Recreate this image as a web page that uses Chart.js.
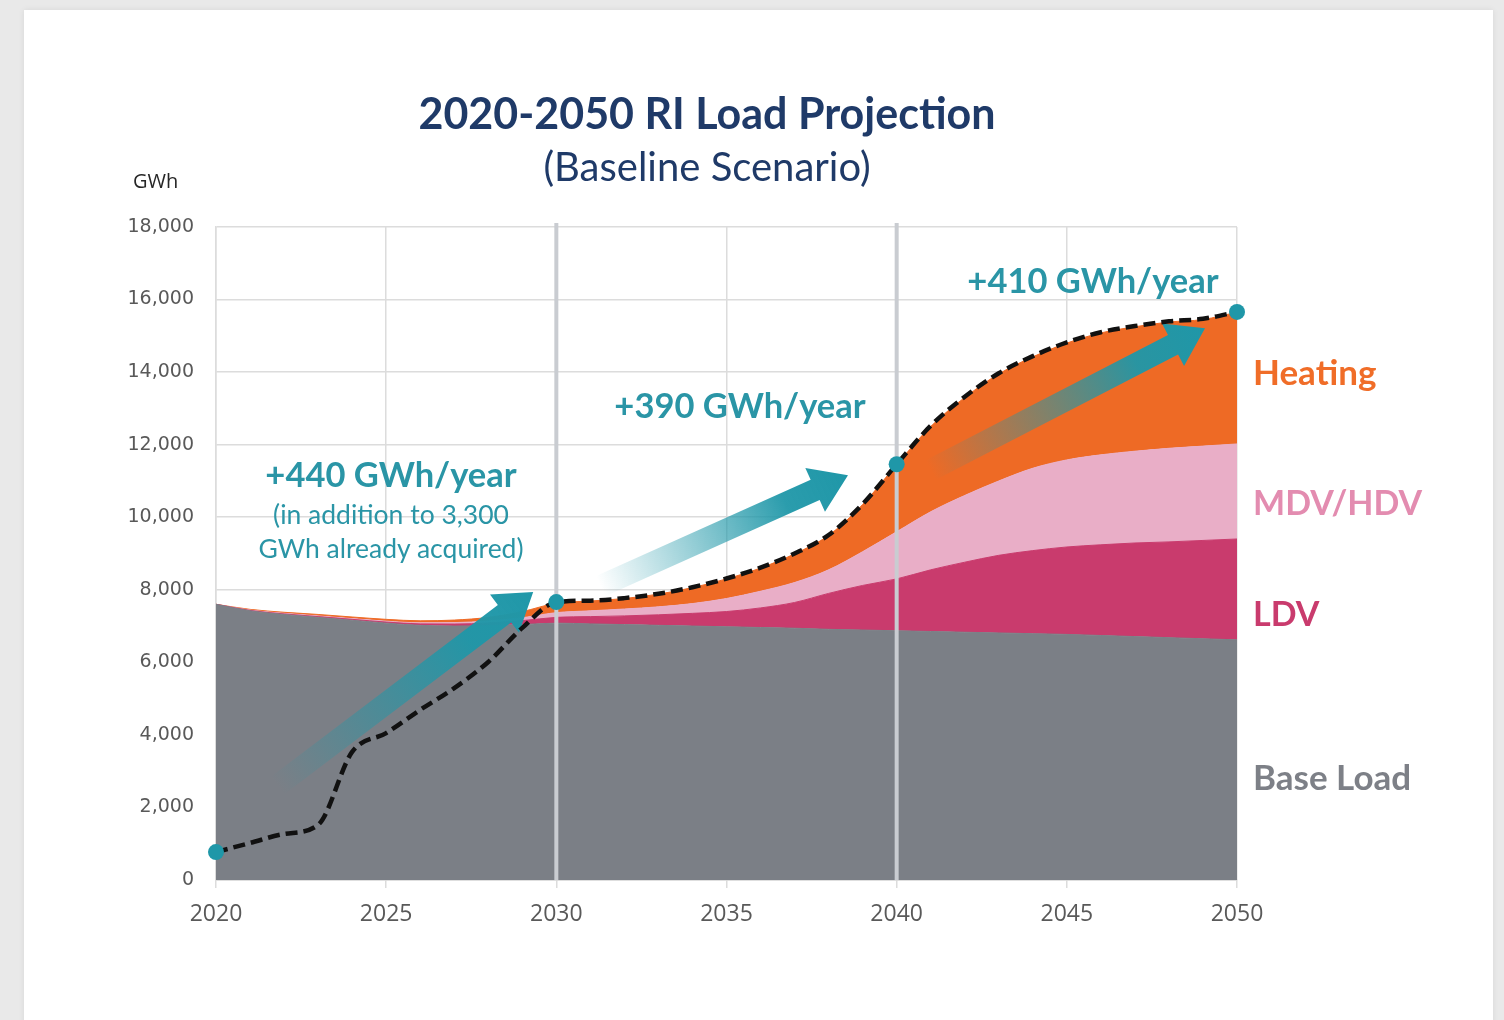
<!DOCTYPE html>
<html>
<head>
<meta charset="utf-8">
<script src="https://cdn.jsdelivr.net/npm/chart.js@4.4.1/dist/chart.umd.min.js"></script>
<style>
    html, body { margin: 0; padding: 0; }
    body { width: 1504px; height: 1020px; background: #e9e9e9; position: relative; overflow: hidden; font-family: Lato, "Open Sans", sans-serif; }
    .card { position: absolute; left: 24px; top: 10px; width: 1469px; height: 1100px; background: #fff; box-shadow: 0 0 6px rgba(0,0,0,0.08); }
    .wrap { position: absolute; left: 0; top: 0; width: 1504px; height: 1020px; }
    .txt { position: absolute; white-space: nowrap; transform: translate(-50%, -50%); line-height: 1; }
    .lbl { position: absolute; white-space: nowrap; transform: translateY(-50%); line-height: 1; font-weight: bold; font-size: 35px; }
    .teal { color: #2a95a6; }
</style>
</head>
<body>
<div class="card"></div>
<div class="wrap"><canvas id="loadChart"></canvas></div>

<div class="txt" style="left:707px; top:112px; font-size:43px; font-weight:bold; color:#1f3a68;">2020-2050 RI Load Projection</div>
<div class="txt" style="left:707px; top:166px; font-size:40px; color:#1f3a68;">(Baseline Scenario)</div>
<div class="lbl" style="left:133px; top:181px; font-size:20px; font-weight:normal; color:#262626; font-family:'Open Sans';">GWh</div>

<div class="txt teal" style="left:391px; top:474px; font-size:34.5px; font-weight:bold;">+440 GWh/year</div>
<div class="txt teal" style="left:391px; top:514px; font-size:26.5px;">(in addition to 3,300</div>
<div class="txt teal" style="left:391px; top:548px; font-size:26.5px;">GWh already acquired)</div>
<div class="txt teal" style="left:740px; top:405px; font-size:34.5px; font-weight:bold;">+390 GWh/year</div>
<div class="txt teal" style="left:1093px; top:280px; font-size:34.5px; font-weight:bold;">+410 GWh/year</div>

<div class="lbl" style="left:1253px; top:371px; color:#f06d28;">Heating</div>
<div class="lbl" style="left:1253px; top:502px; color:#e38cb0; font-size:34px;">MDV/HDV</div>
<div class="lbl" style="left:1253px; top:613px; color:#c93b6d; font-size:34px;">LDV</div>
<div class="lbl" style="left:1253px; top:776px; color:#7d8087;">Base Load</div>

<script>
// Years on the x axis
const years = [2020, 2021, 2022, 2023, 2024, 2025, 2026, 2027, 2028, 2029, 2030,
               2031, 2032, 2033, 2034, 2035, 2036, 2037, 2038, 2039, 2040,
               2041, 2042, 2043, 2044, 2045, 2046, 2047, 2048, 2049, 2050];

// Stacked load components (GWh)
const baseLoad = [7600, 7420, 7320, 7240, 7160, 7080, 7020, 7000, 7010, 7040, 7080,
                  7060, 7040, 7020, 7000, 6980, 6960, 6940, 6910, 6890, 6870,
                  6850, 6830, 6810, 6790, 6770, 6740, 6710, 6680, 6650, 6620];
const ldv = [0, 10, 15, 20, 25, 30, 40, 55, 75, 110, 160,
             200, 240, 290, 350, 420, 540, 710, 990, 1230, 1430,
             1700, 1930, 2140, 2290, 2410, 2500, 2580, 2640, 2710, 2780];
const mdvHdv = [0, 10, 15, 20, 20, 25, 30, 40, 55, 80, 130,
                160, 190, 220, 270, 360, 460, 550, 650, 930, 1300,
                1600, 1840, 2050, 2270, 2400, 2480, 2530, 2580, 2600, 2620];
const heating = [0, 20, 30, 40, 45, 50, 55, 70, 100, 170, 260,
                 270, 290, 350, 440, 540, 640, 790, 950, 1300, 1850,
                 2350, 2700, 2950, 3070, 3220, 3360, 3430, 3480, 3490, 3630];

// Dashed line: clean energy procured (GWh)
const procured = [770, 1020, 1270, 1520, 3530, 4050, 4690, 5290, 6010, 6950, 7660,
                  7700, 7770, 7890, 8070, 8310, 8610, 9000, 9510, 10360, 11460,
                  12520, 13320, 13970, 14440, 14820, 15100, 15270, 15400, 15470, 15660];

// Years marked with a dot and a vertical line
const markedYears = [2020, 2030, 2040, 2050];
const dividerYears = [2030, 2040];

// Growth arrows: [tailYear, tailGWh, tipYear, tipGWh]
const arrows = [
    [2021.8, 2600, 2029.32, 7940],
    [2031.3, 8100, 2038.57, 11160],
    [2041.0, 11300, 2049.06, 15210]
];

const TEAL = '31, 151, 168';

function drawArrow(ctx, x0, y0, x1, y1) {
    const dx = x1 - x0, dy = y1 - y0;
    const len = Math.sqrt(dx * dx + dy * dy);
    const ux = dx / len, uy = dy / len;
    const nx = -uy, ny = ux;
    const shaft = 11, head = 24, headLen = 36;
    const bx = x1 - ux * headLen, by = y1 - uy * headLen;

    const grad = ctx.createLinearGradient(x0, y0, x1, y1);
    grad.addColorStop(0, `rgba(${TEAL}, 0)`);
    grad.addColorStop(0.75, `rgba(${TEAL}, 0.95)`);
    grad.addColorStop(1, `rgba(${TEAL}, 1)`);

    ctx.save();
    ctx.fillStyle = grad;
    ctx.beginPath();
    ctx.moveTo(x0 + nx * shaft, y0 + ny * shaft);
    ctx.lineTo(bx + nx * shaft, by + ny * shaft);
    ctx.lineTo(bx + nx * head, by + ny * head);
    ctx.lineTo(x1, y1);
    ctx.lineTo(bx - nx * head, by - ny * head);
    ctx.lineTo(bx - nx * shaft, by - ny * shaft);
    ctx.lineTo(x0 - nx * shaft, y0 - ny * shaft);
    ctx.closePath();
    ctx.fill();
    ctx.restore();
}

// Dividers and arrows go under the dashed line
const overlayPlugin = {
    id: 'overlay',
    beforeDatasetDraw(chart, args) {
        if (args.meta.label !== 'Procured') return;
        const ctx = chart.ctx;
        const xs = chart.scales.x, ys = chart.scales.y;
        const area = chart.chartArea;

        ctx.save();
        ctx.strokeStyle = '#c9ccd1';
        ctx.lineWidth = 4;
        dividerYears.forEach(yr => {
            const px = xs.getPixelForValue(yr);
            ctx.beginPath();
            ctx.moveTo(px, area.top - 4);
            ctx.lineTo(px, area.bottom);
            ctx.stroke();
        });
        ctx.restore();

        arrows.forEach(a => {
            drawArrow(ctx, xs.getPixelForValue(a[0]), ys.getPixelForValue(a[1]),
                      xs.getPixelForValue(a[2]), ys.getPixelForValue(a[3]));
        });
    }
};

function areaSet(label, data, color, fill) {
    return {
        label: label,
        data: data,
        backgroundColor: color,
        borderColor: color,
        borderWidth: 1,
        fill: fill,
        pointRadius: 0,
        tension: 0.4,
        cubicInterpolationMode: 'monotone',
        stack: 'load'
    };
}

const ctx = document.getElementById('loadChart').getContext('2d');
const loadChart = new Chart(ctx, {
    type: 'line',
    data: {
        labels: years,
        datasets: [
            areaSet('Base Load', baseLoad, '#7b7f86', 'origin'),
            areaSet('LDV', ldv, '#c93b6d', '-1'),
            areaSet('MDV/HDV', mdvHdv, '#e9aec7', '-1'),
            areaSet('Heating', heating, '#ee6a25', '-1'),
            {
                label: 'Procured',
                data: procured,
                borderColor: '#111',
                borderWidth: 4.5,
                borderDash: [12, 6],
                fill: false,
                clip: false,
                tension: 0.3,
                cubicInterpolationMode: 'monotone',
                pointRadius: years.map(y => markedYears.includes(y) ? 8 : 0),
                pointBackgroundColor: `rgb(${TEAL})`,
                pointBorderWidth: 0,
                stack: 'procured',
                order: -1
            }
        ]
    },
    options: {
        responsive: true,
        maintainAspectRatio: false,
        animation: false,
        layout: { padding: { left: 0, right: 267, top: 227, bottom: 80 } },
        plugins: {
            legend: { display: false },
            tooltip: { enabled: false }
        },
        scales: {
            x: {
                type: 'linear',
                min: 2020,
                max: 2050,
                afterFit: s => { s.height = 60; },
                ticks: {
                    stepSize: 5,
                    padding: 13,
                    color: '#595959',
                    font: { family: 'Open Sans', size: 23 },
                    callback: v => String(v)
                },
                grid: { color: '#dcdcdc', lineWidth: 1.5, tickLength: 8 },
                border: { color: '#d0d0d0', width: 1.5 }
            },
            y: {
                stacked: true,
                min: 0,
                max: 18000,
                afterFit: s => { s.width = 216; },
                ticks: {
                    stepSize: 2000,
                    padding: 22,
                    color: '#595959',
                    font: { family: 'DejaVu Sans', size: 19 },
                    callback: v => v.toLocaleString('en-US')
                },
                grid: { color: '#dcdcdc', lineWidth: 1.5, drawTicks: false },
                border: { color: '#dcdcdc', width: 1.5 }
            }
        }
    },
    plugins: [overlayPlugin]
});
</script>
</body>
</html>
